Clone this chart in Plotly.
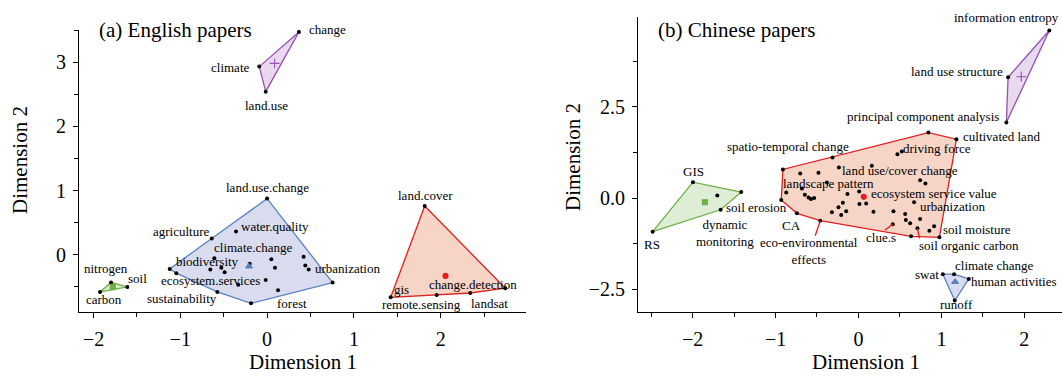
import plotly.graph_objects as go

# ---------------- (a) English papers ----------------
en_purple_x = [0.367, -0.090, -0.016]
en_purple_y = [3.47, 2.93, 2.54]
en_purple_words = ["change", "climate", "land.use"]

en_blue_x = [0.000, -0.358, -0.638, -1.122, -1.046, -0.608, -0.654, -0.527, -0.489, -0.200, 0.049,
             0.091, -0.016, -0.332, -0.573, -0.185, 0.126, 0.421, 0.440, 0.479, 0.755]
en_blue_y = [0.875, 0.364, 0.255, -0.219, -0.286, -0.052, -0.229, -0.203, -0.271, -0.140, -0.068,
             -0.203, -0.390, -0.464, -0.578, -0.755, -0.552, -0.031, -0.167, -0.229, -0.432]
en_blue_words = ["land.use.change", "water.quality", "agriculture", "", "", "biodiversity", "", "", "",
                 "climate.change", "", "", "", "ecosystem.services", "sustainability", "", "forest",
                 "", "", "urbanization", ""]

en_green_x = [-1.798, -1.610, -1.925]
en_green_y = [-0.432, -0.500, -0.578]
en_green_words = ["nitrogen", "soil", "carbon"]

en_red_x = [1.816, 1.424, 1.954, 2.341, 2.744]
en_red_y = [0.760, -0.661, -0.625, -0.594, -0.520]
en_red_words = ["land.cover", "gis", "remote.sensing", "landsat", "change.detection"]

# ---------------- (b) Chinese papers ----------------
cn_purple_x = [2.301, 1.804, 1.783]
cn_purple_y = [4.59, 3.31, 2.07]
cn_purple_words = ["information entropy", "land use structure", "principal component analysis"]

cn_green_x = [-1.995, -1.413, -1.702, -1.662, -2.482]
cn_green_y = [0.437, 0.164, 0.073, -0.320, -0.920]
cn_green_words = ["GIS", "", "dynamic<br>monitoring", "soil erosion", "RS"]

cn_blue_x = [1.017, 1.153, 1.330, 1.161]
cn_blue_y = [-2.085, -2.085, -2.213, -2.806]
cn_blue_words = ["swat", "climate change", "human activities", "runoff"]

cn_red_x = [0.843, 1.181, 0.470, 0.523, 0.161, -0.313, -0.911, -0.236, -0.702, -0.482, -0.381,
            -0.871, -0.682, -0.646, -0.602, -0.573, -0.534, -0.931, -0.742, -0.461, -0.133, 0.008,
            0.012, 0.093, -0.188, -0.241, -0.148, -0.320, -0.208, 0.181, 0.422, 0.414, 0.671,
            0.563, 0.571, 0.623, 0.743, 0.711, 0.855, 0.912, 0.976, 0.635, 0.743, 0.807]
cn_red_y = [1.795, 1.612, 1.202, 1.276, 0.883, 1.112, 0.784, 0.839, 0.675, 0.691, 0.429,
            0.156, 0.265, 0.090, 0.019, -0.027, 0.000, -0.055, -0.418, -0.620, 0.109, 0.183,
            -0.164, -0.145, -0.128, -0.254, -0.363, -0.391, -0.464, -0.374, -0.363, -0.719, -0.117,
            -0.437, -0.601, -0.691, -0.574, -0.828, -0.893, -0.773, -1.074, -1.046, 0.492, 0.402]
cn_red_words = ["", "cultivated land", "", "driving force", "", "spatio-temporal change", "",
                "land use/cover change", "", "", "landscape pattern", "", "", "", "", "", "", "",
                "CA", "eco-environmental<br>effects", "", "ecosystem service value", "", "", "", "",
                "", "", "", "", "", "clue.s", "urbanization", "", "", "", "", "soil organic carbon",
                "", "soil moisture", "", "", "", ""]

# label placement: pixel offset of the label centre from its point (right, down)
EN_LABEL_OFFSETS = {
    "change": (29, -2), "climate": (-29, 1), "land.use": (1, 14),
    "land.use.change": (0, -11), "water.quality": (39, -5), "agriculture": (-30, -7),
    "climate.change": (4, -16), "biodiversity": (-7, 3), "ecosystem.services": (-28, -4),
    "sustainability": (-35, 7), "forest": (14, 13), "urbanization": (39, -1),
    "nitrogen": (-5, -14), "soil": (10, -8), "carbon": (4, 8),
    "land.cover": (1, -11), "gis": (11, -8), "remote.sensing": (-15, 10),
    "landsat": (19, 11), "change.detection": (-32, -4),
}
CN_LABEL_OFFSETS = {
    "information entropy": (-43, -13), "land use structure": (-51, -6),
    "principal component analysis": (-83, -6),
    "GIS": (1, -11), "soil erosion": (36, -2), "dynamic<br>monitoring": (8, 38), "RS": (-1, 13),
    "spatio-temporal change": (-45, -11), "landscape pattern": (2, 1),
    "land use/cover change": (61, 3), "driving force": (35, -3), "cultivated land": (45, -3),
    "ecosystem service value": (75, 2), "urbanization": (38, 4), "soil moisture": (43, 3),
    "soil organic carbon": (52, 17), "clue.s": (-12, 13), "CA": (-5, 12),
    "eco-environmental<br>effects": (-11, 30),
    "swat": (-16, 0), "climate change": (40, -9), "human activities": (45, 3), "runoff": (2, 4),
}
# leader lines drawn from a point towards its displaced label (pixel end offsets, right/down)
CN_LEADERS = {"soil organic carbon": (2, 10), "clue.s": (-8, 6), "eco-environmental<br>effects": (-5, 15)}

STYLE = {
    "purple": dict(line="#9650ad", fill="rgba(205,170,220,0.45)", symbol="cross-thin", size=7),
    "blue": dict(line="#5a82c2", fill="rgba(170,178,220,0.45)", symbol="triangle-up", size=6),
    "green": dict(line="#6cb044", fill="rgba(182,214,164,0.45)", symbol="square", size=5),
    "red": dict(line="#e0201e", fill="rgba(236,160,128,0.45)", symbol="circle", size=5),
}

FONT = "Liberation Serif"
W, H = 1062, 376


def convex_hull(pts):
    pts = sorted(set(pts))
    if len(pts) < 3:
        return pts

    def cross(o, a, b):
        return (a[0] - o[0]) * (b[1] - o[1]) - (a[1] - o[1]) * (b[0] - o[0])

    lower, upper = [], []
    for p in pts:
        while len(lower) >= 2 and cross(lower[-2], lower[-1], p) <= 0:
            lower.pop()
        lower.append(p)
    for p in reversed(pts):
        while len(upper) >= 2 and cross(upper[-2], upper[-1], p) <= 0:
            upper.pop()
        upper.append(p)
    return lower[:-1] + upper[:-1]


fig = go.Figure()
annotations = []
shapes = []

panels = [
    ("x", "y", EN_LABEL_OFFSETS, {}, [
        ("purple", en_purple_x, en_purple_y, en_purple_words),
        ("blue", en_blue_x, en_blue_y, en_blue_words),
        ("green", en_green_x, en_green_y, en_green_words),
        ("red", en_red_x, en_red_y, en_red_words),
    ]),
    ("x2", "y2", CN_LABEL_OFFSETS, CN_LEADERS, [
        ("purple", cn_purple_x, cn_purple_y, cn_purple_words),
        ("green", cn_green_x, cn_green_y, cn_green_words),
        ("blue", cn_blue_x, cn_blue_y, cn_blue_words),
        ("red", cn_red_x, cn_red_y, cn_red_words),
    ]),
]

for xref, yref, offsets, leaders, clusters in panels:
    for colour, xs, ys, words in clusters:
        st = STYLE[colour]
        hull = convex_hull(list(zip(xs, ys)))
        hx = [p[0] for p in hull] + [hull[0][0]]
        hy = [p[1] for p in hull] + [hull[0][1]]
        fig.add_trace(go.Scatter(x=hx, y=hy, xaxis=xref, yaxis=yref, mode="lines", fill="toself",
                                 fillcolor=st["fill"], line=dict(color=st["line"], width=1.3),
                                 hoverinfo="skip", showlegend=False))
        fig.add_trace(go.Scatter(x=xs, y=ys, xaxis=xref, yaxis=yref, mode="markers",
                                 marker=dict(color="black", size=4), showlegend=False))
        cx = sum(xs) / len(xs)
        cy = sum(ys) / len(ys)
        fig.add_trace(go.Scatter(x=[cx], y=[cy], xaxis=xref, yaxis=yref, mode="markers",
                                 marker=dict(symbol=st["symbol"], size=st["size"], color=st["line"],
                                             line=dict(color=st["line"], width=1.1)),
                                 showlegend=False))
        for px, py, word in zip(xs, ys, words):
            if not word:
                continue
            dx, dy = offsets[word]
            annotations.append(dict(x=px, y=py, xref=xref, yref=yref, text=word, showarrow=False,
                                    xanchor="center", yanchor="middle", xshift=dx, yshift=-dy,
                                    font=dict(family=FONT, size=13, color="black"), align="center"))
            if word in leaders:
                sx, sy = leaders[word]
                shapes.append(dict(type="line", xref=xref, yref=yref, xsizemode="pixel",
                                   ysizemode="pixel", xanchor=px, yanchor=py, x0=0, y0=0,
                                   x1=sx, y1=-sy, line=dict(color=STYLE["red"]["line"], width=1.3)))


def paper(px, py):
    return px / W, 1 - py / H


def text_at(px, py, text, size, anchor="center", angle=0):
    x, y = paper(px, py)
    annotations.append(dict(x=x, y=y, xref="paper", yref="paper", text=text, showarrow=False,
                            xanchor=anchor, yanchor="middle", textangle=angle,
                            font=dict(family=FONT, size=size, color="black")))


text_at(97, 30, "(a) English papers", 21, anchor="left")
text_at(656, 30, "(b) Chinese papers", 21, anchor="left")
text_at(303, 362, "Dimension 1", 21)
text_at(866, 362, "Dimension 1", 21)
text_at(20, 160, "Dimension 2", 21, angle=-90)
text_at(573, 157, "Dimension 2", 21, angle=-90)

axis_common = dict(showline=True, linecolor="black", linewidth=1, ticks="outside", ticklen=5,
                   tickcolor="black", showgrid=False, zeroline=False, mirror=False,
                   tickfont=dict(family=FONT, size=20, color="black"))

fig.update_layout(
    width=W, height=H, margin=dict(l=0, r=0, t=0, b=0), autosize=False,
    paper_bgcolor="white", plot_bgcolor="white", showlegend=False,
    annotations=annotations, shapes=shapes,
    xaxis=dict(domain=[79 / W, 526 / W], range=[-2.167, 2.983], tickvals=[-2, -1, 0, 1, 2],
               minor=dict(dtick=0.5, tick0=0, ticks="outside", ticklen=4, tickcolor="black"),
               anchor="y", ticklabelstandoff=4, **axis_common),
    yaxis=dict(domain=[1 - 312 / H, 1 - 30 / H], range=[-0.89, 3.5], tickvals=[0, 1, 2, 3],
               minor=dict(dtick=0.5, tick0=0, ticks="outside", ticklen=4, tickcolor="black"),
               anchor="x", ticklabelstandoff=3, **axis_common),
    xaxis2=dict(domain=[638 / W, 1.0], range=[-2.658, 2.454], tickvals=[-2, -1, 0, 1, 2],
                minor=dict(dtick=0.5, tick0=0, ticks="outside", ticklen=4, tickcolor="black"),
                anchor="y2", ticklabelstandoff=4, **axis_common),
    yaxis2=dict(domain=[1 - 312 / H, 1 - 17 / H], range=[-3.12, 4.96], tickvals=[-2.5, 0, 2.5],
                tickformat=".1f",
                minor=dict(dtick=1.25, tick0=0, ticks="outside", ticklen=4, tickcolor="black"),
                anchor="x2", ticklabelstandoff=3, **axis_common),
)

fig.write_html("out.html")
